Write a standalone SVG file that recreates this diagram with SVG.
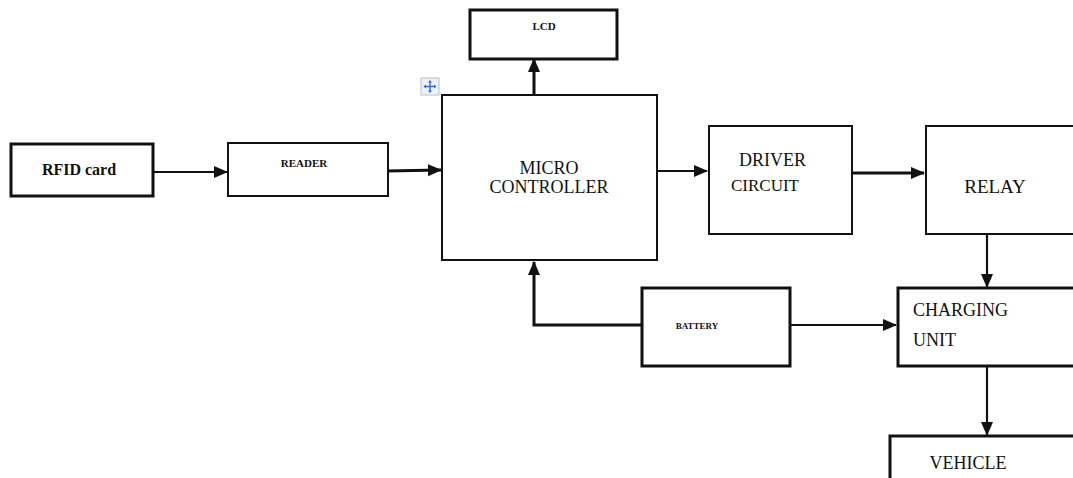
<svg xmlns="http://www.w3.org/2000/svg" width="1073" height="478" viewBox="0 0 1073 478">
<defs>
<style>
.box{fill:#fff;stroke:#111;stroke-width:2}
.thick{stroke-width:3}
.t{font-family:'Liberation Serif','DejaVu Serif',serif;fill:#111}
.ln{stroke:#111;stroke-width:2.2;fill:none}
.lnb{stroke:#111;stroke-width:3;fill:none}
</style>
<marker id="ahL" markerWidth="14" markerHeight="14" refX="13" refY="7" orient="auto" markerUnits="userSpaceOnUse" viewBox="0 0 14 14">
<path d="M0,1 L14,7 L0,13 z" fill="#111"/>
</marker>
</defs>
<rect width="1073" height="478" fill="#fff"/>
<g id="connectors">
<line class="ln" x1="154" y1="172" x2="227" y2="172" marker-end="url(#ahL)"/>
<line class="lnb" x1="386" y1="171" x2="441" y2="170" marker-end="url(#ahL)"/>
<line class="lnb" x1="534" y1="99" x2="534" y2="59" marker-end="url(#ahL)"/>
<line class="ln" x1="657" y1="171" x2="707" y2="171" marker-end="url(#ahL)"/>
<rect x="848" y="170" width="5" height="6" fill="#111"/>
<line class="lnb" x1="850" y1="173" x2="924" y2="173" marker-end="url(#ahL)"/>
<line class="ln" x1="987" y1="234" x2="987" y2="287" marker-end="url(#ahL)"/>
<line class="ln" x1="790" y1="325" x2="896" y2="325" marker-end="url(#ahL)"/>
<path class="lnb" d="M642,325 H534 V262" marker-end="url(#ahL)"/>
<line class="ln" x1="987" y1="366" x2="987" y2="435" marker-end="url(#ahL)"/>
</g>
<g id="rfid">
<rect class="box thick" x="11" y="144" width="142" height="52"/>
<text class="t" font-family="Liberation Serif, serif" x="79" y="175" font-size="16" font-weight="bold" text-anchor="middle">RFID card</text>
</g>
<g id="reader">
<rect class="box" x="228" y="143" width="160" height="53"/>
<text class="t" font-family="Liberation Serif, serif" x="304" y="167" font-size="11" font-weight="bold" text-anchor="middle">READER</text>
</g>
<g id="lcd">
<rect class="box thick" x="470" y="10" width="147" height="49"/>
<text class="t" font-family="Liberation Serif, serif" x="544" y="30" font-size="11" font-weight="bold" text-anchor="middle">LCD</text>
</g>
<g id="move-icon">
<rect x="421" y="78" width="18" height="17" fill="#eef2f8" stroke="#b8c0cc" stroke-width="1"/>
<path d="M430,81 V92 M424.5,86.5 H435.5" stroke="#3a6fd0" stroke-width="1.4" fill="none"/>
<path d="M430,80 l-2,2.5 h4 z M430,93 l-2,-2.5 h4 z M423.5,86.5 l2.5,-2 v4 z M436.5,86.5 l-2.5,-2 v4 z" fill="#3a6fd0"/>
</g>
<g id="micro">
<rect class="box" x="442" y="95" width="215" height="165"/>
<text class="t" font-family="Liberation Serif, serif" x="549" y="174" font-size="18" text-anchor="middle">MICRO</text>
<text class="t" font-family="Liberation Serif, serif" x="549" y="193" font-size="18" text-anchor="middle">CONTROLLER</text>
</g>
<g id="driver">
<rect class="box" x="709" y="126" width="143" height="108"/>
<text class="t" font-family="Liberation Serif, serif" x="739" y="166" font-size="18">DRIVER</text>
<text class="t" font-family="Liberation Serif, serif" x="731" y="191" font-size="17">CIRCUIT</text>
</g>
<g id="relay">
<rect class="box" x="926" y="126" width="150" height="108"/>
<text class="t" font-family="Liberation Serif, serif" x="995" y="193" font-size="19" text-anchor="middle">RELAY</text>
</g>
<g id="battery">
<rect class="box thick" x="642" y="288" width="148" height="78"/>
<text class="t" font-family="Liberation Serif, serif" x="697" y="329" font-size="9" font-weight="bold" text-anchor="middle">BATTERY</text>
</g>
<g id="charging">
<rect class="box thick" x="898" y="288" width="178" height="78"/>
<text class="t" font-family="Liberation Serif, serif" x="913" y="316" font-size="18">CHARGING</text>
<text class="t" font-family="Liberation Serif, serif" x="913" y="346" font-size="18">UNIT</text>
</g>
<g id="vehicle">
<rect class="box thick" x="890" y="436" width="185" height="50"/>
<text class="t" font-family="Liberation Serif, serif" x="968" y="469" font-size="18" text-anchor="middle">VEHICLE</text>
</g>
</svg>
